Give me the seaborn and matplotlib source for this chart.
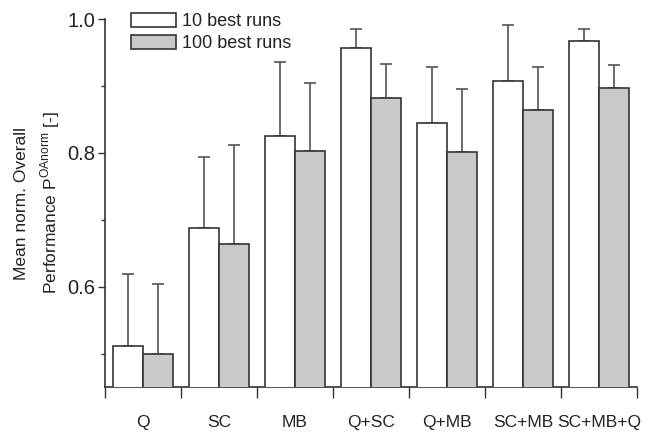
import numpy as np
import pandas as pd
import matplotlib
matplotlib.use('Agg')
import matplotlib.pyplot as plt
import seaborn as sns
from matplotlib.patches import Patch
from matplotlib.ticker import FixedLocator

# ─── Data ─────────────────────────────────────────────────────────────
combos = ['Q', 'SC', 'MB', 'Q+SC', 'Q+MB', 'SC+MB', 'SC+MB+Q']
series = ['10 best runs', '100 best runs']
mean_10 = [0.512, 0.688, 0.825, 0.957, 0.845, 0.907, 0.967]
upper_10 = [0.619, 0.794, 0.936, 0.985, 0.928, 0.991, 0.985]
mean_100 = [0.500, 0.664, 0.803, 0.882, 0.801, 0.864, 0.897]
upper_100 = [0.604, 0.812, 0.904, 0.933, 0.896, 0.928, 0.931]

df = pd.DataFrame({
    'combo': combos * 2,
    'runs': [series[0]] * len(combos) + [series[1]] * len(combos),
    'value': mean_10 + mean_100,
})

sns.set_style('white')
plt.rcParams['font.family'] = ['Liberation Sans', 'DejaVu Sans']
TXT = '#222222'
EDGE = '#333333'

fig = plt.figure(figsize=(6.52, 4.37), dpi=100)
ax = fig.add_axes([0.161, 0.1144, 0.816, 0.8421])

sns.barplot(data=df, x='combo', y='value', hue='runs', order=combos,
            hue_order=series, palette=['white', '#c8c9cb'],
            edgecolor=EDGE, linewidth=1.2, width=0.8, gap=0,
            errorbar=None, legend=False, ax=ax, zorder=3)

# one-sided (upper) error bars
for cont, upper in zip(ax.containers, [upper_10, upper_100]):
    xs = [p.get_x() + p.get_width() / 2 for p in cont]
    ys = [p.get_height() for p in cont]
    err = np.array(upper) - np.array(ys)
    ax.errorbar(xs, ys, yerr=[np.zeros_like(err), err], fmt='none',
                ecolor='#555555', elinewidth=1.2, capsize=4, capthick=1.2,
                zorder=2)

# ─── Axes ─────────────────────────────────────────────────────────────
ax.set_ylim(0.45, 1.0)
ax.set_xlim(-0.5, len(combos) - 0.5)
ax.yaxis.set_major_locator(FixedLocator([0.6, 0.8, 1.0]))
ax.yaxis.set_minor_locator(FixedLocator([0.5, 0.7, 0.9]))
ax.set_yticklabels(['0.6', '0.8', '1.0'])
ax.xaxis.set_minor_locator(FixedLocator(np.arange(-0.5, len(combos), 1.0)))

ax.tick_params(axis='y', which='major', direction='out', length=5,
               width=1, color=EDGE, labelsize=14.5, labelcolor=TXT,
               left=True, pad=2)
ax.tick_params(axis='y', which='minor', direction='out', length=3,
               width=1, color=EDGE, left=True)
ax.tick_params(axis='x', which='major', length=0, pad=20,
               labelsize=12.5, labelcolor=TXT)
ax.tick_params(axis='x', which='minor', direction='out', length=8,
               width=1, color=EDGE, bottom=True)

for side in ['top', 'right']:
    ax.spines[side].set_visible(False)
for side in ['left', 'bottom']:
    ax.spines[side].set_color(EDGE)
    ax.spines[side].set_linewidth(1.2)

ax.set_xlabel('')
ax.set_ylabel('Mean norm. Overall\nPerformance P$^{\\mathregular{OAnorm}}$ [-]',
              fontsize=12.5, color=TXT, labelpad=4, linespacing=1.5)

handles = [Patch(facecolor='white', edgecolor=EDGE, linewidth=1.2),
           Patch(facecolor='#c8c9cb', edgecolor=EDGE, linewidth=1.2)]
ax.legend(handles, series, loc='upper left', bbox_to_anchor=(0.025, 1.05),
          frameon=False, fontsize=13, handlelength=2.5, handleheight=0.8,
          handletextpad=0.35, labelspacing=0.25, labelcolor=TXT,
          borderpad=0.2)

plt.savefig('out.png', dpi=100)
plt.close()
